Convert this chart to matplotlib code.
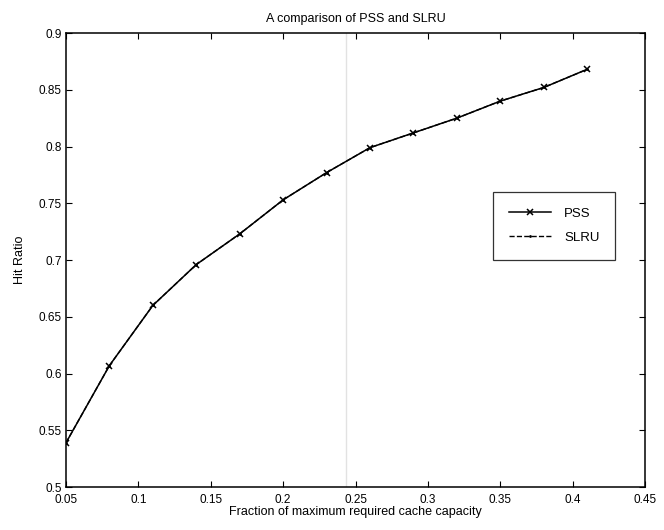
import matplotlib
matplotlib.use('Agg')
import matplotlib.pyplot as plt
import numpy as np

plt.rcParams['font.family'] = ['Liberation Sans', 'DejaVu Sans']

# cache size as a fraction of the maximum required capacity
capacity = [0.05, 0.08, 0.11, 0.14, 0.17, 0.20, 0.23, 0.26, 0.29, 0.32, 0.35, 0.38, 0.41]
# hit ratios (SLRU lies on top of PSS)
pss_hit = [0.539, 0.607, 0.660, 0.696, 0.723, 0.753, 0.777, 0.799, 0.812, 0.825, 0.840, 0.852, 0.868]
slru_hit = [0.539, 0.607, 0.660, 0.696, 0.723, 0.753, 0.777, 0.799, 0.812, 0.825, 0.840, 0.852, 0.868]

x_ticks = [0.05, 0.1, 0.15, 0.2, 0.25, 0.3, 0.35, 0.4, 0.45]
x_tick_labels = ['0.05', '0.1', '0.15', '0.2', '0.25', '0.3', '0.35', '0.4', '0.45']
y_ticks = [0.5, 0.55, 0.6, 0.65, 0.7, 0.75, 0.8, 0.85, 0.9]
y_tick_labels = ['0.5', '0.55', '0.6', '0.65', '0.7', '0.75', '0.8', '0.85', '0.9']

fig = plt.figure(figsize=(6.64, 5.30), dpi=100)
ax = fig.add_axes([0.0994, 0.0811, 0.8720, 0.8566])

# faint vertical streak across the plot
ax.axvline(0.2435, color='#e2e2e2', lw=1.0, zorder=0)

ax.plot(capacity, pss_hit, color='black', lw=1.1, ls='-', marker='x',
        markersize=5, markeredgewidth=1.1, label='PSS')
ax.plot(capacity, slru_hit, color='black', lw=1.0, ls='--', marker='.',
        markersize=2, label='SLRU')

ax.set_xlim(0.05, 0.45)
ax.set_ylim(0.5, 0.9)
ax.set_xticks(x_ticks)
ax.set_xticklabels(x_tick_labels)
ax.set_yticks(y_ticks)
ax.set_yticklabels(y_tick_labels)
ax.tick_params(direction='in', top=True, right=True, length=4, width=0.8,
               labelsize=8.5)
ax.tick_params(axis='x', pad=5)
ax.tick_params(axis='y', pad=3)
for s in ax.spines.values():
    s.set_linewidth(1.1)

ax.set_title('A comparison of PSS and SLRU', fontsize=9, pad=8)
ax.set_xlabel('Fraction of maximum required cache capacity', fontsize=9, labelpad=0)
ax.set_ylabel('Hit Ratio', fontsize=9, labelpad=9)

leg = ax.legend(loc='upper left', bbox_to_anchor=(0.737, 0.65), fontsize=9.5,
                frameon=True, fancybox=False, edgecolor='black',
                handlelength=3.2, handletextpad=1.0, borderpad=1.2,
                labelspacing=0.9, borderaxespad=0)
leg.get_frame().set_linewidth(0.9)

fig.savefig('out.png', dpi=100)
